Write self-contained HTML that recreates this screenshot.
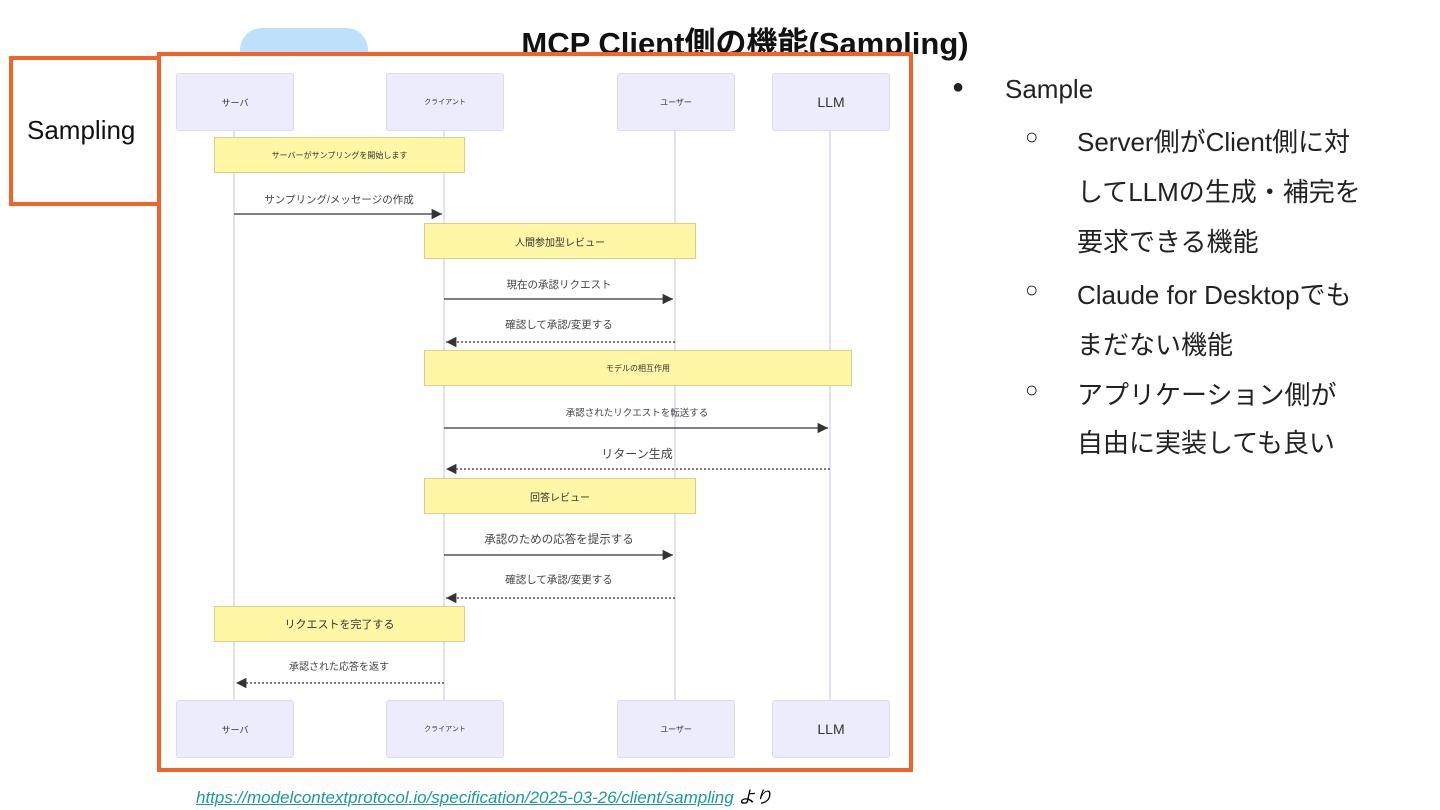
<!DOCTYPE html>
<html><head><meta charset="utf-8"><style>
body{margin:0;width:1440px;height:810px;background:#fff;position:relative;overflow:hidden;font-family:"Liberation Sans","Noto Sans CJK JP",sans-serif}
.a{position:absolute}
.actor{position:absolute;background:#ececfd;border:1px solid #dcdcf0;border-radius:3px;width:116px;height:56px;display:flex;align-items:center;justify-content:center;font-size:9px;color:#333}
.note{position:absolute;background:#fff6a6;border:1px solid #d8d08a;display:flex;align-items:center;justify-content:center;font-size:10px;color:#333;height:34px}
.lbl{position:absolute;font-size:10.5px;color:#444;transform:translateX(-50%);white-space:nowrap}
.rt{position:absolute;font-size:26px;color:#222;white-space:nowrap}
</style></head><body>
<div class="a" style="left:240px;top:28px;width:128px;height:40px;background:#bfe0fb;border-radius:22px 22px 0 0"></div>
<div class="a" style="left:0;top:18px;width:1490px;text-align:center;font-size:31px;font-weight:bold;color:#111">MCP Client側の機能(Sampling)</div>
<div class="a" style="left:9px;top:56px;width:145px;height:142px;border:4px solid #f0632a;border-right:none;background:#fff"></div>
<div class="a" style="left:27px;top:115px;font-size:26px;color:#111">Sampling</div>
<div class="a" style="left:157px;top:52px;width:748px;height:712px;border:4px solid #f0632a;background:#fff"></div>
<svg class="a" style="left:0;top:0" width="1440" height="810">
<defs><marker id="m" markerWidth="8" markerHeight="8" refX="8" refY="4" orient="auto"><path d="M0,0L8,4L0,8z" fill="#333"/></marker></defs>
<g stroke="#cfcfe6" stroke-width="1.2"><line x1="234" y1="129" x2="234" y2="700"/><line x1="444" y1="129" x2="444" y2="700"/><line x1="675" y1="129" x2="675" y2="700"/><line x1="830" y1="129" x2="830" y2="700"/></g>
<g stroke="#333" stroke-width="1.3" marker-end="url(#m)">
<line x1="234" y1="214" x2="442" y2="214"/>
<line x1="444" y1="299" x2="673" y2="299"/>
<line x1="675" y1="342" x2="446" y2="342" stroke-dasharray="2,2"/>
<line x1="444" y1="428" x2="828" y2="428"/>
<line x1="830" y1="469" x2="446" y2="469" stroke-dasharray="2,2"/>
<line x1="444" y1="555" x2="673" y2="555"/>
<line x1="675" y1="598" x2="446" y2="598" stroke-dasharray="2,2"/>
<line x1="444" y1="683" x2="236" y2="683" stroke-dasharray="2,2"/>
</g></svg>
<div class="actor" style="left:176px;top:73px">サーバ</div>
<div class="actor" style="left:386px;top:73px;font-size:7px">クライアント</div>
<div class="actor" style="left:617px;top:73px;font-size:8px">ユーザー</div>
<div class="actor" style="left:772px;top:73px;font-size:14px">LLM</div>
<div class="actor" style="left:176px;top:700px">サーバ</div>
<div class="actor" style="left:386px;top:700px;font-size:7px">クライアント</div>
<div class="actor" style="left:617px;top:700px;font-size:8px">ユーザー</div>
<div class="actor" style="left:772px;top:700px;font-size:14px">LLM</div>
<div class="note" style="left:214px;top:137px;width:249px;font-size:8px">サーバーがサンプリングを開始します</div>
<div class="note" style="left:424px;top:223px;width:270px">人間参加型レビュー</div>
<div class="note" style="left:424px;top:350px;width:426px;font-size:8px">モデルの相互作用</div>
<div class="note" style="left:424px;top:478px;width:270px">回答レビュー</div>
<div class="note" style="left:214px;top:606px;width:249px;font-size:11px">リクエストを完了する</div>
<div class="lbl" style="left:339px;top:192px">サンプリング/メッセージの作成</div>
<div class="lbl" style="left:559px;top:277px">現在の承認リクエスト</div>
<div class="lbl" style="left:559px;top:317px">確認して承認/変更する</div>
<div class="lbl" style="left:637px;top:405px;font-size:9.5px">承認されたリクエストを転送する</div>
<div class="lbl" style="left:637px;top:445px;font-size:12px">リターン生成</div>
<div class="lbl" style="left:559px;top:531px;font-size:11.5px">承認のための応答を提示する</div>
<div class="lbl" style="left:559px;top:572px">確認して承認/変更する</div>
<div class="lbl" style="left:339px;top:658px;font-size:10px">承認された応答を返す</div>
<div class="a" style="left:196px;top:783px;font-size:17px;font-style:italic;white-space:nowrap"><span style="color:#1a9a9a;text-decoration:underline">https://modelcontextprotocol.io/specification/2025-03-26/client/sampling</span> より</div>
<div class="rt" style="left:952px;top:76px;font-size:20px">●</div>
<div class="rt" style="left:1005px;top:74px">Sample</div>
<div class="rt" style="left:1025px;top:124px;font-size:22px">○</div>
<div class="rt" style="left:1077px;top:122px">Server側がClient側に対</div>
<div class="rt" style="left:1077px;top:172px">してLLMの生成・補完を</div>
<div class="rt" style="left:1077px;top:222px">要求できる機能</div>
<div class="rt" style="left:1025px;top:277px;font-size:22px">○</div>
<div class="rt" style="left:1077px;top:275px">Claude for Desktopでも</div>
<div class="rt" style="left:1077px;top:325px">まだない機能</div>
<div class="rt" style="left:1025px;top:377px;font-size:22px">○</div>
<div class="rt" style="left:1077px;top:375px">アプリケーション側が</div>
<div class="rt" style="left:1077px;top:423px">自由に実装しても良い</div>
</body></html>
